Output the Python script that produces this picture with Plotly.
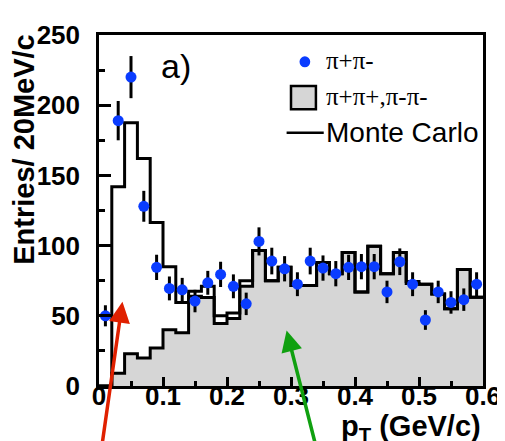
import numpy as np
import plotly.graph_objects as go

# ---- data ----
bin_edges = np.round(np.arange(0, 0.6001, 0.02), 2).tolist()          # 31 edges, 20 MeV bins
bin_centers = [round(e + 0.01, 2) for e in bin_edges[:-1]]

# pi+pi- data points (entries per 20 MeV/c) and errors
pipi_vals = [50, 189, 220, 128, 84.5, 69.5, 68.5, 60.5, 73.5, 79.5,
             71, 58.5, 103, 89, 83.5, 72.5, 89, 84, 80, 84.5,
             85, 85, 67, 88.5, 72.5, 47, 67, 59.5, 61.5, 72.5]
pipi_errs = [7.5, 14, 15, 11, 9, 8.5, 8.5, 8, 8.5, 9,
             8.5, 8, 10, 9.5, 9, 8.5, 9.5, 9, 9, 9,
             9, 9, 8, 9.5, 8.5, 7, 8, 8, 8, 8.5]

# like-sign (pi+pi+, pi-pi-) histogram
likesign_vals = [0, 9, 23, 20, 27, 40, 38, 64, 63, 44.5,
                 48, 71, 96.5, 75, 84.5, 71.5, 71.5, 88, 80, 95,
                 67, 99.5, 80, 95, 73, 72.5, 65.5, 55, 83, 63.3]

# Monte Carlo histogram
mc_vals = [0, 142, 187.5, 162, 116.5, 85, 59.5, 67.5, 71, 50,
           52, 75, 96.5, 75, 84.5, 71.5, 71.5, 88, 80, 95,
           67, 99.5, 80, 95, 74.5, 72.5, 65.5, 55, 83, 63.3]

x_ticks = [0, 0.1, 0.2, 0.3, 0.4, 0.5, 0.6]
x_ticklabels = ["0", "0.1", "0.2", "0.3", "0.4", "0.5", "0.6"]
y_ticks = [0, 50, 100, 150, 200, 250]
y_ticklabels = ["0", "50", "100", "150", "200", "250"]

legend_labels = ["\u03c0+\u03c0-", "\u03c0+\u03c0+,\u03c0-\u03c0-", "Monte Carlo"]

# ---- figure ----
W, H = 505, 441
L, R, T, B = 91, 21, 24, 63
PW, PH = W - L - R, H - T - B

def px(x):
    return (x - L) / PW

def py(y):
    return (H - B - y) / PH

BLUE = "#0a3cff"
GRAY = "#d6d6d6"
SANS = "Liberation Sans"
SERIF = "Liberation Serif"

fig = go.Figure()
fig.add_trace(go.Scatter(
    x=bin_edges, y=likesign_vals + [likesign_vals[-1]], mode="lines",
    line=dict(shape="hv", color="black", width=3),
    fill="tozeroy", fillcolor=GRAY, showlegend=False, hoverinfo="skip"))
fig.add_trace(go.Scatter(
    x=bin_edges, y=mc_vals + [mc_vals[-1]], mode="lines",
    line=dict(shape="hv", color="black", width=3),
    showlegend=False, hoverinfo="skip"))
fig.add_trace(go.Scatter(
    x=bin_centers, y=pipi_vals, mode="markers",
    marker=dict(color=BLUE, size=11, line=dict(width=0)),
    error_y=dict(type="data", array=pipi_errs, color="black", thickness=3, width=0),
    showlegend=False))

axis_common = dict(
    showline=True, linecolor="black", linewidth=2.5, mirror=True,
    ticks="inside", tickcolor="black", tickwidth=2.5,
    showgrid=False, zeroline=False,
    tickfont=dict(family=SANS, size=26, color="black", weight="bold"),
)
fig.update_xaxes(range=[0, 0.6], tickvals=x_ticks, ticktext=x_ticklabels, ticklen=9,
                 ticklabelstandoff=-15,
                 minor=dict(ticks="inside", dtick=0.05, tick0=0, ticklen=5,
                            tickwidth=2.5, tickcolor="black", showgrid=False),
                 **axis_common)
fig.update_yaxes(range=[0, 250], tickvals=y_ticks, ticktext=y_ticklabels, ticklen=12,
                 ticklabelstandoff=11,
                 minor=dict(ticks="inside", dtick=25, tick0=0, ticklen=6,
                            tickwidth=2.5, tickcolor="black", showgrid=False),
                 **axis_common)

shapes = [
    # legend glyphs
    dict(type="circle", xref="paper", yref="paper",
         x0=px(296.2), x1=px(307.2), y0=py(56.5), y1=py(45.5),
         fillcolor=BLUE, line=dict(width=0)),
    dict(type="rect", xref="paper", yref="paper",
         x0=px(287.5), x1=px(313), y0=py(99), y1=py(75.5),
         fillcolor=GRAY, line=dict(color="black", width=2.5)),
    dict(type="line", xref="paper", yref="paper",
         x0=px(283), x1=px(321), y0=py(122.5), y1=py(122.5),
         line=dict(color="black", width=2.5)),
]

annotations = [
    dict(text="Entries/ 20MeV/c", xref="paper", yref="paper", x=px(14), y=py(139),
         textangle=-90, showarrow=False, xanchor="center", yanchor="middle",
         font=dict(family=SANS, size=29, color="black", weight="bold")),
    dict(text="p<sub>T</sub> (GeV/c)", xref="paper", yref="paper", x=px(484), y=py(420),
         showarrow=False, xanchor="right", yanchor="middle",
         font=dict(family=SANS, size=29, color="black", weight="bold")),
    dict(text="a)", xref="paper", yref="paper", x=px(152), y=py(55),
         showarrow=False, xanchor="left", yanchor="middle",
         font=dict(family=SANS, size=34, color="black")),
    dict(text=legend_labels[0], xref="paper", yref="paper", x=px(321), y=py(50),
         showarrow=False, xanchor="left", yanchor="middle",
         font=dict(family=SERIF, size=25, color="black")),
    dict(text=legend_labels[1], xref="paper", yref="paper", x=px(321), y=py(86),
         showarrow=False, xanchor="left", yanchor="middle",
         font=dict(family=SERIF, size=25, color="black")),
    dict(text=legend_labels[2], xref="paper", yref="paper", x=px(321), y=py(122),
         showarrow=False, xanchor="left", yanchor="middle",
         font=dict(family=SANS, size=28, color="black")),
    # arrows
    dict(text="", xref="paper", yref="paper", x=px(115), y=py(293),
         ax=-21, ay=150, axref="pixel", ayref="pixel",
         showarrow=True, arrowhead=2, arrowsize=1.2, arrowwidth=3.5, arrowcolor="#e02000"),
    dict(text="", xref="paper", yref="paper", x=px(283), y=py(322),
         ax=30, ay=122, axref="pixel", ayref="pixel",
         showarrow=True, arrowhead=2, arrowsize=1.2, arrowwidth=3.5, arrowcolor="#10a010"),
]

fig.update_layout(
    width=W, height=H, margin=dict(l=L, r=R, t=T, b=B, pad=0),
    paper_bgcolor="white", plot_bgcolor="white",
    shapes=shapes, annotations=annotations, showlegend=False,
)

fig.write_html("out.html")
